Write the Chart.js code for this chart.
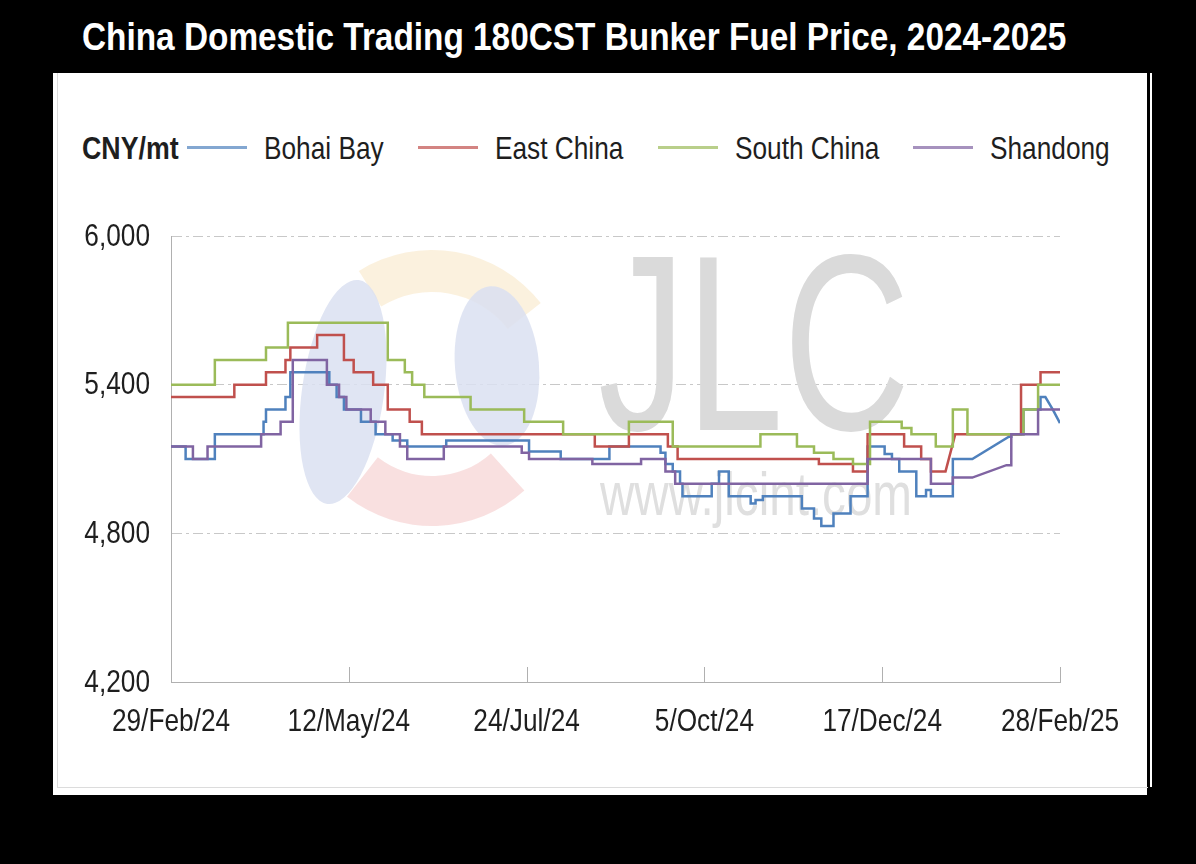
<!DOCTYPE html>
<html><head><meta charset="utf-8">
<script src="https://cdn.jsdelivr.net/npm/chart.js@4.4.1/dist/chart.umd.min.js"></script>
<style>
html,body{margin:0;padding:0;background:#000;width:1196px;height:864px;overflow:hidden;position:relative;}
#panel{position:absolute;left:53px;top:73px;width:1094px;height:722px;background:#fff;}
#inner{position:absolute;left:57px;top:73px;width:1091px;height:715px;border-left:1px solid #dcdcdc;border-bottom:1px solid #dcdcdc;box-sizing:border-box;}
#edge{position:absolute;left:1150px;top:73px;width:2px;height:714px;background:#fff;}
.nf{font-family:"Liberation Sans Narrow","Arial Narrow","Liberation Sans",Arial,sans-serif;}
#title{position:absolute;left:82px;top:18px;color:#fff;font-weight:bold;font-size:38px;line-height:1;white-space:nowrap;transform-origin:0 0;}
#unit{position:absolute;left:82px;top:132px;font-weight:bold;font-size:32px;line-height:1;color:#1e1e1e;white-space:nowrap;transform-origin:0 0;}
.item{position:absolute;top:132px;height:32px;white-space:nowrap;font-size:32px;line-height:1;color:#1e1e1e;}
.item .sw{position:absolute;left:0;top:14px;width:60px;height:3px;}
.item .tx{position:absolute;left:77px;top:0;transform-origin:0 0;}
#chartbox{position:absolute;left:57px;top:190px;width:1090px;height:570px;}
</style></head>
<body>
<div id="panel"></div>
<div id="inner"></div>
<div id="edge"></div>
<div id="title" class="nf">China Domestic Trading 180CST Bunker Fuel Price, 2024-2025</div>
<div id="unit" class="nf">CNY/mt</div>
<div id="legend"></div>
<div id="chartbox"><canvas id="c" width="1090" height="570"></canvas></div>
<script>
// ---- data ----
const tickLabels = ['29/Feb/24','12/May/24','24/Jul/24','5/Oct/24','17/Dec/24','28/Feb/25'];
const seriesNames = ['Bohai Bay','East China','South China','Shandong'];
const seriesColors = ['#4F81BD','#C0504D','#9BBB59','#8064A2'];
const yTicks = [4200, 4800, 5400, 6000];

// [date, value from that date on]; 'ramp' = straight line from the previous point
const bohaiBay = [
 ['2024-02-29',5150],['2024-03-06',5100],['2024-03-18',5200],['2024-04-07',5250],['2024-04-08',5300],
 ['2024-04-16',5350],['2024-04-18',5450],['2024-05-04',5400],['2024-05-07',5350],['2024-05-10',5300],
 ['2024-05-17',5250],['2024-05-23',5200],['2024-05-30',5175],['2024-06-05',5150],['2024-06-21',5175],
 ['2024-07-25',5130],['2024-08-07',5100],['2024-08-27',5150],['2024-09-17',5125],['2024-09-19',5080],
 ['2024-09-22',5050],['2024-09-25',5000],['2024-09-26',4950],['2024-10-08',5000],['2024-10-11',5050],
 ['2024-10-15',4950],['2024-10-24',4920],['2024-10-26',4935],['2024-10-29',4950],['2024-11-14',4900],
 ['2024-11-19',4860],['2024-11-22',4830],['2024-11-27',4880],['2024-12-04',4950],['2024-12-11',5150],
 ['2024-12-18',5120],['2024-12-21',5100],['2024-12-24',5050],['2024-12-31',4950],['2025-01-04',4975],
 ['2025-01-06',4950],['2025-01-15',5100],['2025-01-23',5100],['2025-02-07',5190,'ramp'],['2025-02-08',5200],
 ['2025-02-13',5300],['2025-02-20',5350],['2025-02-22',5350],['2025-02-25',5300,'ramp'],['2025-02-28',5245,'ramp']
];
const eastChina = [
 ['2024-02-29',5350],['2024-03-26',5400],['2024-04-08',5450],['2024-04-16',5500],['2024-04-18',5550],
 ['2024-04-29',5600],['2024-05-10',5500],['2024-05-14',5450],['2024-05-22',5400],['2024-05-28',5300],
 ['2024-06-06',5250],['2024-06-11',5200],['2024-08-21',5150],['2024-09-04',5200],['2024-09-20',5150],
 ['2024-09-24',5100],['2024-11-21',5080],['2024-12-05',5050],['2024-12-11',5200],['2024-12-26',5150],
 ['2025-01-02',5100],['2025-01-06',5050],['2025-01-12',5050],['2025-01-16',5200,'ramp'],['2025-02-12',5400],
 ['2025-02-20',5450],['2025-02-28',5450]
];
const southChina = [
 ['2024-02-29',5400],['2024-03-18',5500],['2024-04-08',5550],['2024-04-17',5650],['2024-05-28',5500],
 ['2024-06-04',5450],['2024-06-07',5400],['2024-06-12',5350],['2024-07-01',5300],['2024-07-23',5250],
 ['2024-08-08',5200],['2024-09-04',5250],['2024-09-22',5150],['2024-10-28',5200],['2024-11-12',5150],
 ['2024-11-19',5125],['2024-11-27',5100],['2024-12-05',5080],['2024-12-12',5250],['2024-12-25',5225],
 ['2024-12-29',5200],['2025-01-08',5150],['2025-01-15',5300],['2025-01-21',5200],['2025-02-13',5300],
 ['2025-02-19',5400],['2025-02-28',5400]
];
const shandong = [
 ['2024-02-29',5150],['2024-03-09',5100],['2024-03-15',5150],['2024-04-06',5200],['2024-04-14',5250],
 ['2024-04-19',5500],['2024-05-03',5400],['2024-05-08',5350],['2024-05-11',5300],['2024-05-21',5250],
 ['2024-05-27',5200],['2024-06-02',5150],['2024-06-05',5100],['2024-06-20',5150],['2024-07-22',5125],
 ['2024-07-25',5100],['2024-08-20',5080],['2024-09-09',5100],['2024-09-19',5050],['2024-09-23',5000],
 ['2024-12-11',5100],['2025-01-06',5000],['2025-01-15',5025],['2025-01-23',5025],['2025-02-06',5075,'ramp'],
 ['2025-02-08',5200],['2025-02-19',5300],['2025-02-28',5300]
];
// ---------------

const START = Date.UTC(2024,1,29), DAY = 86400000;
const dayOf = s => { const [y,m,d] = s.split('-').map(Number); return Math.round((Date.UTC(y,m-1,d)-START)/DAY); };
function buildPath(changes){
  const pts = []; let prev = null;
  changes.forEach(([d,v,kind]) => {
    const x = dayOf(d);
    if (prev === null || kind === 'ramp') pts.push({x, y:v});
    else { pts.push({x, y:prev}); pts.push({x, y:v}); }
    prev = v;
  });
  return pts;
}
const allSeries = [bohaiBay, eastChina, southChina, shandong];
const xMax = dayOf('2025-02-28');
const xStep = xMax / (tickLabels.length - 1);

const FONT = '"Liberation Sans Narrow","Arial Narrow","Liberation Sans",Arial,sans-serif';
const NARROW = 0.82; // horizontal condensing to mimic a narrow face

function fitWidth(el, target){ const w = el.offsetWidth; el.style.transform = 'scaleX(' + (target / w) + ')'; }
fitWidth(document.getElementById('title'), 984);
fitWidth(document.getElementById('unit'), 97);

// legend
const legendX = [187, 418, 658, 913];
const lg = document.getElementById('legend');
seriesNames.forEach((n,i) => {
  const d = document.createElement('div'); d.className = 'item nf'; d.style.left = legendX[i] + 'px';
  d.innerHTML = '<span class="sw" style="background:' + seriesColors[i] + ';opacity:0.7"></span><span class="tx">' + n + '</span>';
  lg.appendChild(d);
  d.querySelector('.tx').style.transform = 'scaleX(' + NARROW + ')';
});

const rad = d => d * Math.PI / 180;
const watermark = {
  id: 'watermark',
  beforeDatasetsDraw(chart){
    const ctx = chart.ctx;
    ctx.save();
    ctx.translate(-57, -190); // page -> canvas coordinates
    const cx = 432, cy = 388;
    function ring(a0, a1, rO, rI, col){
      ctx.beginPath(); ctx.arc(cx, cy, rO, a0, a1); ctx.arc(cx, cy, rI, a1, a0, true); ctx.closePath();
      ctx.fillStyle = col; ctx.fill();
    }
    ring(rad(-122), rad(-38), 138, 96, 'rgba(250,238,214,0.8)');
    ring(rad(48), rad(128), 138, 88, 'rgba(247,216,216,0.8)');
    ctx.beginPath(); ctx.ellipse(343, 392, 41, 113, rad(8), 0, Math.PI*2); ctx.fillStyle = 'rgba(218,225,241,0.85)'; ctx.fill();
    ctx.beginPath(); ctx.ellipse(497, 366, 42, 80, rad(-5), 0, Math.PI*2); ctx.fillStyle = 'rgba(218,225,241,0.85)'; ctx.fill();
    ctx.fillStyle = '#dadada';
    ctx.textBaseline = 'alphabetic'; ctx.textAlign = 'left';
    ctx.font = '250px ' + FONT;
    let w = ctx.measureText('JLC').width;
    ctx.save(); ctx.translate(598, 430); ctx.scale(312 / w, 1); ctx.fillText('JLC', 0, 0); ctx.restore();
    ctx.fillStyle = '#dfdfdf';
    ctx.font = '62px ' + FONT;
    w = ctx.measureText('www.jlcint.com').width;
    ctx.save(); ctx.translate(600, 515); ctx.scale(312 / w, 1); ctx.fillText('www.jlcint.com', 0, 0); ctx.restore();
    ctx.restore();
  },
  afterDraw(chart){
    const ctx = chart.ctx, xs = chart.scales.x, ys = chart.scales.y;
    const yb = ys.getPixelForValue(yTicks[0]);
    // inward tick marks on the x axis
    ctx.save(); ctx.strokeStyle = '#b0b0b0'; ctx.lineWidth = 1;
    xs.ticks.forEach(t => {
      const x = Math.round(xs.getPixelForValue(t.value)) + 0.5;
      ctx.beginPath(); ctx.moveTo(x, yb); ctx.lineTo(x, yb - 15); ctx.stroke();
    });
    ctx.restore();
    // tick labels, condensed horizontally
    ctx.save();
    ctx.fillStyle = '#1e1e1e'; ctx.font = '32px ' + FONT; ctx.textBaseline = 'middle';
    ys.ticks.forEach((t, i) => {
      const y = ys.getPixelForValue(t.value);
      const txt = t.label != null ? String(t.label) : yTicks[i].toLocaleString('en-US');
      ctx.save(); ctx.translate(ys.right - 21, y + 1); ctx.scale(NARROW, 1); ctx.textAlign = 'right'; ctx.fillText(txt, 0, 0); ctx.restore();
    });
    xs.ticks.forEach((t, i) => {
      const x = xs.getPixelForValue(t.value);
      const txt = t.label != null ? String(t.label) : tickLabels[i];
      ctx.save(); ctx.translate(x, yb + 40); ctx.scale(NARROW, 1); ctx.textAlign = 'center'; ctx.fillText(txt, 0, 0); ctx.restore();
    });
    ctx.restore();
  }
};

new Chart(document.getElementById('c'), {
  type: 'line',
  data: {
    datasets: allSeries.map((s,i) => ({
      label: seriesNames[i], data: buildPath(s), borderColor: seriesColors[i],
      borderWidth: 2.5, pointRadius: 0, tension: 0, fill: false, order: 4 - i
    }))
  },
  options: {
    responsive: false, animation: false, events: [],
    layout: { padding: { left: 0, right: 87, top: 46, bottom: 0 } },
    plugins: { legend: { display: false }, tooltip: { enabled: false } },
    scales: {
      x: {
        type: 'linear', min: 0, max: xMax,
        afterBuildTicks: s => { s.ticks = tickLabels.map((_, i) => ({ value: i * xStep })); },
        afterFit: s => { s.height = 78; s.paddingLeft = 0; s.paddingRight = 0; },
        grid: { display: true, drawOnChartArea: false, drawTicks: false },
        border: { display: true, color: '#b0b0b0', width: 1 },
        ticks: { autoSkip: false, maxRotation: 0, padding: 24, color: 'rgba(0,0,0,0)',
          font: { family: FONT, size: 32 },
          callback: (v, i) => tickLabels[i] }
      },
      y: {
        min: yTicks[0], max: yTicks[yTicks.length - 1],
        afterBuildTicks: s => { s.ticks = yTicks.map(v => ({ value: v })); },
        afterFit: s => { s.width = 114; s.paddingTop = 0; s.paddingBottom = 0; },
        grid: { drawTicks: false, color: c => (c.tick && c.tick.value === yTicks[0]) ? 'rgba(0,0,0,0)' : '#c8c8c8', lineWidth: 1 },
        border: { display: true, color: '#b0b0b0', width: 1, dash: [10, 4, 3, 4] },
        ticks: { padding: 21, color: 'rgba(0,0,0,0)', font: { family: FONT, size: 32 },
          callback: v => v.toLocaleString('en-US') }
      }
    }
  },
  plugins: [watermark]
});
</script>
</body></html>
